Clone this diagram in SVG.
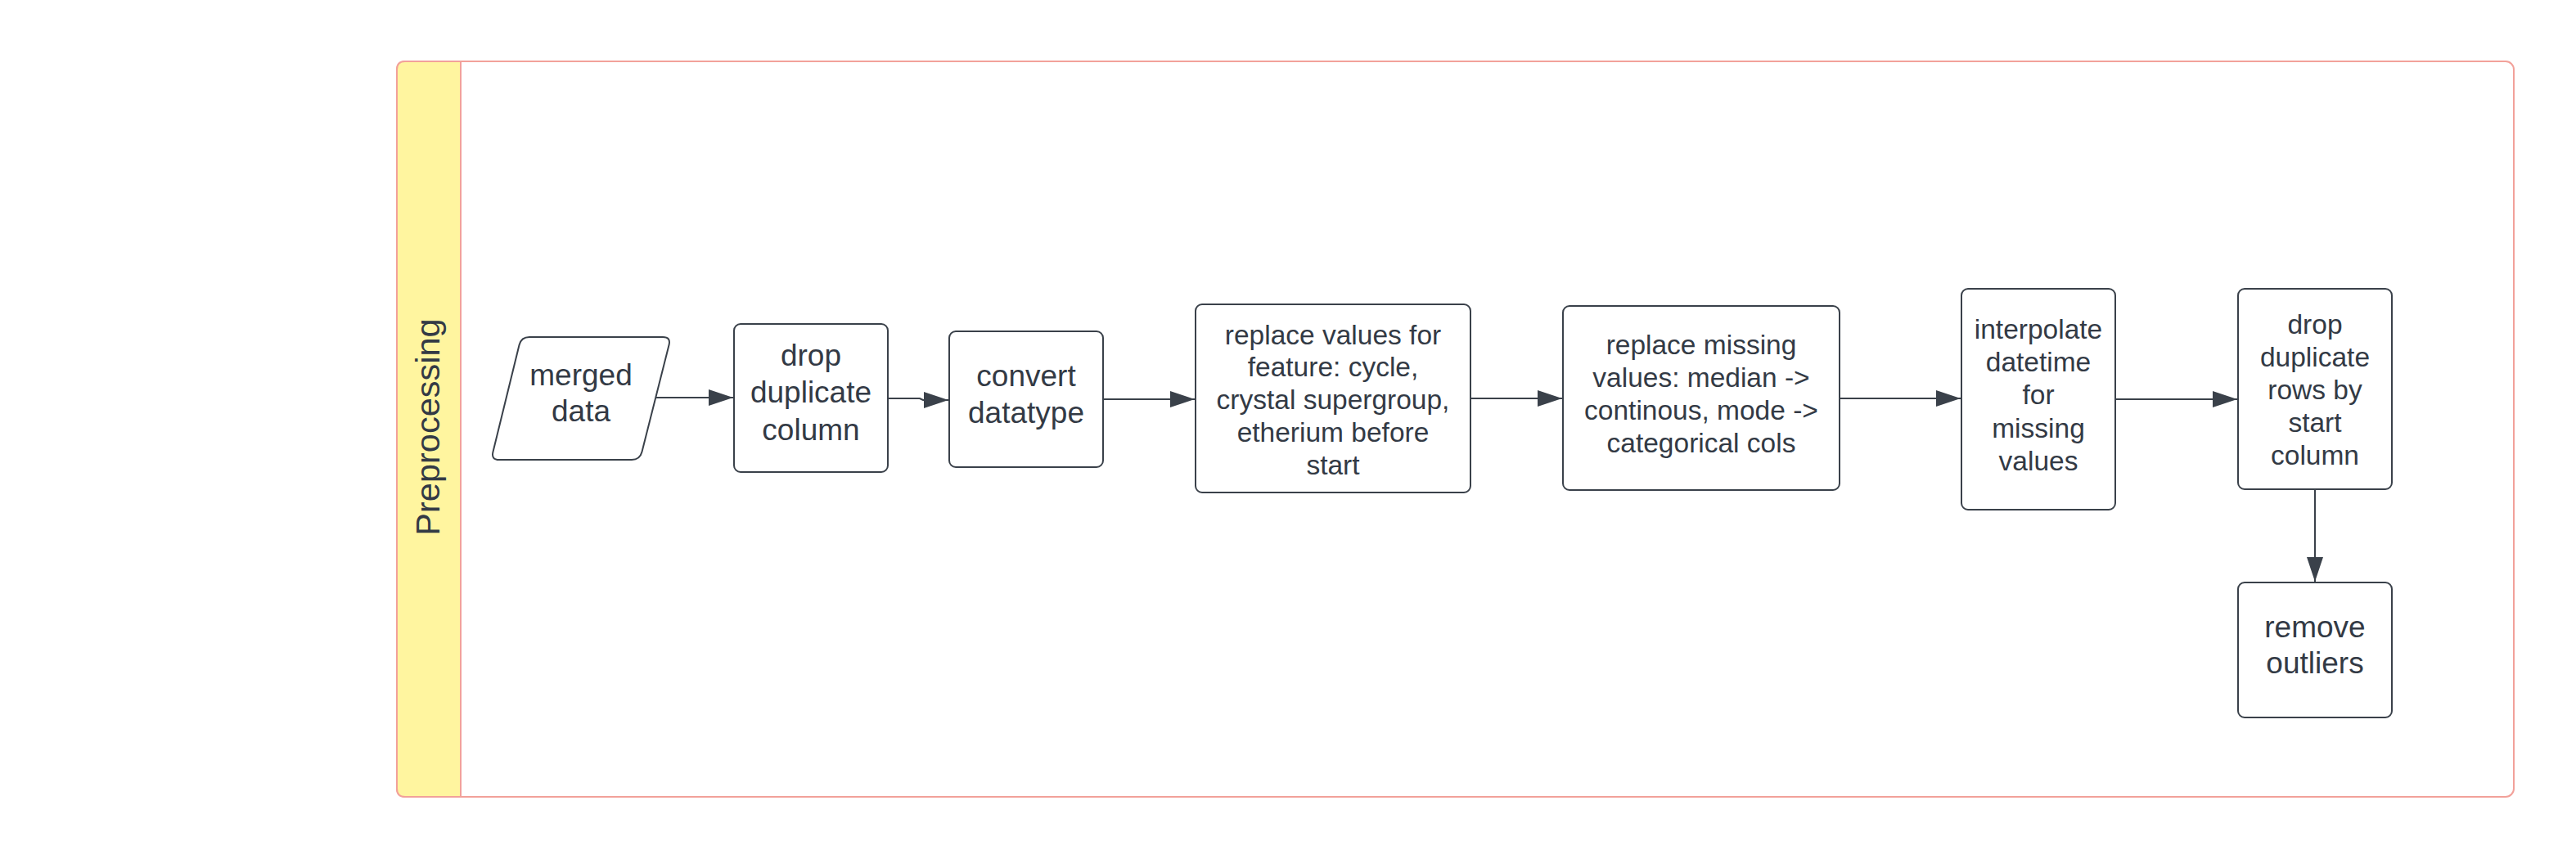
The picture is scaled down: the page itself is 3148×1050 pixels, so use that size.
<svg xmlns="http://www.w3.org/2000/svg" width="3148" height="1050" viewBox="0 0 3148 1050">
<style>
.node{fill:#ffffff;stroke:#3a414a;stroke-width:2}
.t{font-family:"Liberation Sans",Arial,sans-serif;fill:#333a45;text-anchor:middle}
.big{font-size:37px}
.sm{font-size:33.5px}
.conn{fill:none;stroke:#3a414a;stroke-width:2}
</style>
<defs>
<marker id="ah" markerUnits="userSpaceOnUse" markerWidth="30" markerHeight="20" refX="30" refY="10" orient="auto">
<path d="M0,0 L30,10 L0,20 z" fill="#3a414a"/>
</marker>
</defs>
<rect x="0" y="0" width="3148" height="1050" fill="#ffffff"/>
<g id="pool">
<rect x="485" y="75" width="2587" height="899" rx="10" fill="#ffffff" stroke="#f2a19a" stroke-width="2"/>
<path d="M563,75 H495 Q485,75 485,85 V964 Q485,974 495,974 H563 Z" fill="#fff59f" stroke="#f2a19a" stroke-width="2"/>
<text class="t" font-size="41.5" transform="translate(537,522) rotate(-90)">Preprocessing</text>
</g>
<g id="merged-data">
<path class="node" d="M647,412 H810 Q820,412 817.5,421.7 L784.5,552.3 Q782,562 772,562 H610 Q600,562 602.5,552.3 L634.5,421.7 Q637,412 647,412 Z"/>
<text class="t big" x="710" y="471">merged</text>
<text class="t big" x="710" y="515">data</text>
</g>
<g id="drop-duplicate-column">
<rect class="node" x="897" y="396" width="188" height="181" rx="8"/>
<text class="t big" x="991" y="447">drop</text>
<text class="t big" x="991" y="492">duplicate</text>
<text class="t big" x="991" y="538">column</text>
</g>
<g id="convert-datatype">
<rect class="node" x="1160" y="405" width="188" height="166" rx="8"/>
<text class="t big" x="1254" y="472">convert</text>
<text class="t big" x="1254" y="517">datatype</text>
</g>
<g id="replace-values">
<rect class="node" x="1461" y="372" width="336" height="230" rx="8"/>
<text class="t sm" x="1629" y="421">replace values for</text>
<text class="t sm" x="1629" y="460">feature: cycle,</text>
<text class="t sm" x="1629" y="500">crystal supergroup,</text>
<text class="t sm" x="1629" y="540">etherium before</text>
<text class="t sm" x="1629" y="580">start</text>
</g>
<g id="replace-missing">
<rect class="node" x="1910" y="374" width="338" height="225" rx="8"/>
<text class="t sm" x="2079" y="433">replace missing</text>
<text class="t sm" x="2079" y="473">values: median -&gt;</text>
<text class="t sm" x="2079" y="513">continous, mode -&gt;</text>
<text class="t sm" x="2079" y="553">categorical cols</text>
</g>
<g id="interpolate-datetime">
<rect class="node" x="2397" y="353" width="188" height="270" rx="8"/>
<text class="t sm" x="2491" y="414">interpolate</text>
<text class="t sm" x="2491" y="454">datetime</text>
<text class="t sm" x="2491" y="494">for</text>
<text class="t sm" x="2491" y="535">missing</text>
<text class="t sm" x="2491" y="575">values</text>
</g>
<g id="drop-duplicate-rows">
<rect class="node" x="2735" y="353" width="188" height="245" rx="8"/>
<text class="t sm" x="2829" y="408">drop</text>
<text class="t sm" x="2829" y="448">duplicate</text>
<text class="t sm" x="2829" y="488">rows by</text>
<text class="t sm" x="2829" y="528">start</text>
<text class="t sm" x="2829" y="568">column</text>
</g>
<g id="remove-outliers">
<rect class="node" x="2735" y="712" width="188" height="165" rx="8"/>
<text class="t big" x="2829" y="779">remove</text>
<text class="t big" x="2829" y="823">outliers</text>
</g>
<g id="connectors">
<path class="conn" marker-end="url(#ah)" d="M801,486 H896"/>
<path class="conn" marker-end="url(#ah)" d="M1085,487 H1124 L1128,489 H1159"/>
<path class="conn" marker-end="url(#ah)" d="M1348,488 H1460"/>
<path class="conn" marker-end="url(#ah)" d="M1797,487 H1909"/>
<path class="conn" marker-end="url(#ah)" d="M2248,487 H2396"/>
<path class="conn" marker-end="url(#ah)" d="M2585,488 H2734"/>
<path class="conn" marker-end="url(#ah)" d="M2829,598 V711"/>
</g>
</svg>
